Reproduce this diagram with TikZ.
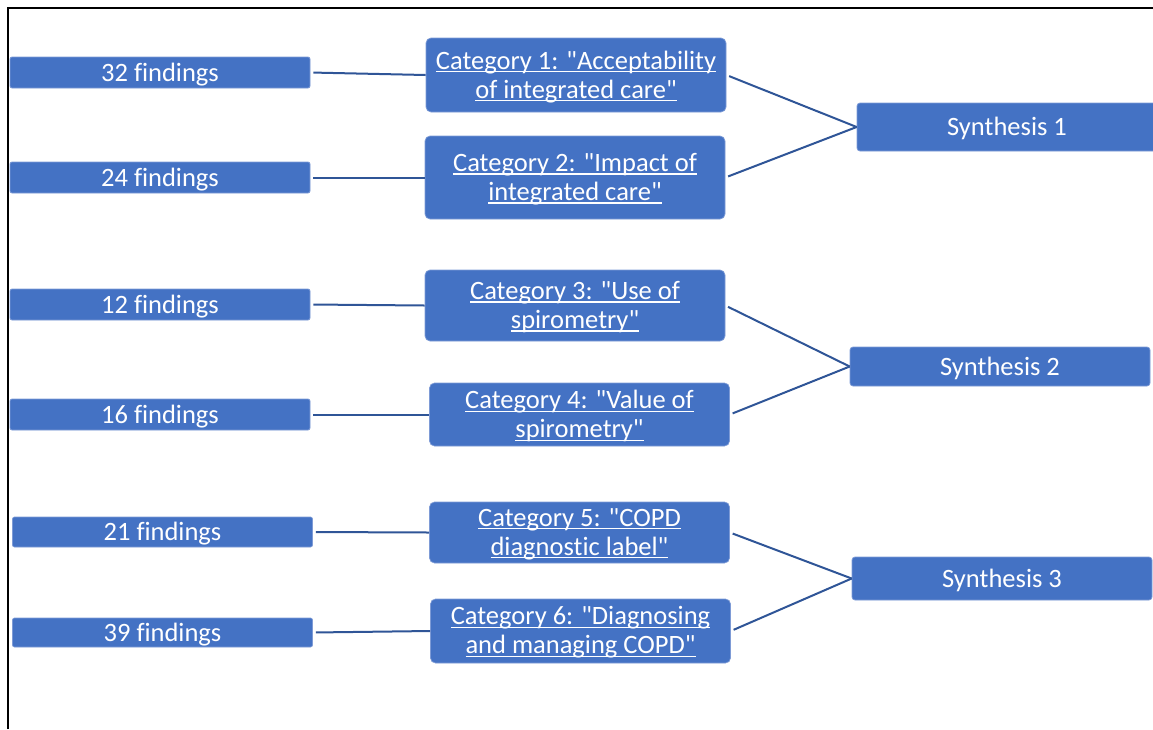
\documentclass[tikz,border=0pt]{standalone}
\usepackage{fontspec}
\setmainfont{Carlito}[Ligatures={TeXOff,CommonOff}]
\definecolor{boxblue}{HTML}{4472C4}
\definecolor{boxedge}{HTML}{7E9BD6}
\definecolor{linkblue}{HTML}{2F5597}
% straight double quote
\newcommand\dq{\char34\relax}
% one line of box text, set slightly low without changing its reported size
\newcommand\boxline[1]{\raisebox{-1.6pt}[\height][\depth]{#1}}
% underlined line of box text, rule at a fixed depth below the baseline
\newcommand\uboxline[1]{\setbox0\hbox{#1}\boxline{\rlap{\rule[-3.2pt]{\wd0}{1.3pt}}\box0}}
\begin{document}
\begin{tikzpicture}[x=1pt,y=-1pt,
  base/.style={fill=boxblue,draw=boxedge,line width=0.7pt,text=white,inner sep=0pt,
    font=\fontsize{26.5}{29}\selectfont,align=center,minimum width=300pt},
  findbox/.style={base,rounded corners=2pt},
  catbox/.style={base,rounded corners=5pt},
  synbox/.style={base,rounded corners=3pt},
  link/.style={draw=linkblue,line width=2pt,shorten <=3pt}]
\clip (0,0) rectangle (1153,729);
\useasboundingbox (0,0) rectangle (1153,729);
% frame
\draw[line width=2pt] (8,729) -- (8,7.5) -- (1160,7.5);

% findings
\node[findbox,minimum height=31pt] (f1) at (160,72.5) {\boxline{32 findings}};
\node[findbox,minimum height=31pt] (f2) at (160,177.5) {\boxline{24 findings}};
\node[findbox,minimum height=31pt] (f3) at (160,304.5) {\boxline{12 findings}};
\node[findbox,minimum height=31pt] (f4) at (160,414.5) {\boxline{16 findings}};
\node[findbox,minimum height=30pt] (f5) at (162.5,532) {\boxline{21 findings}};
\node[findbox,minimum height=29pt] (f6) at (162.5,632.5) {\boxline{39 findings}};

% categories
\node[catbox,minimum height=74pt] (c1) at (576,75)
  {\uboxline{Category 1: \dq Acceptability}\\\uboxline{of integrated care\dq}};
\node[catbox,minimum height=83pt] (c2) at (575,177.5)
  {\uboxline{Category 2: \dq Impact of}\\\uboxline{integrated care\dq}};
\node[catbox,minimum height=71pt] (c3) at (575,305.5)
  {\uboxline{Category 3: \dq Use of}\\\uboxline{spirometry\dq}};
\node[catbox,minimum height=63pt] (c4) at (579.5,414.5)
  {\uboxline{Category 4: \dq Value of}\\\uboxline{spirometry\dq}};
\node[catbox,minimum height=61pt] (c5) at (579.5,532.5)
  {\uboxline{Category 5: \dq COPD}\\\uboxline{diagnostic label\dq}};
\node[catbox,minimum height=64pt] (c6) at (580.5,631)
  {\uboxline{Category 6: \dq Diagnosing}\\\uboxline{and managing COPD\dq}};

% syntheses
\node[synbox,minimum height=48pt] (s1) at (1007,127) {\boxline{Synthesis 1}};
\node[synbox,minimum height=39pt] (s2) at (1000,366.5) {\boxline{Synthesis 2}};
\node[synbox,minimum height=43pt] (s3) at (1002,578.5) {\boxline{Synthesis 3}};

% connectors
\draw[link] (f1.east) -- (c1.west);
\draw[link] (f2.east) -- (c2.west);
\draw[link] (f3.east) -- (c3.west);
\draw[link] (f4.east) -- (c4.west);
\draw[link] (f5.east) -- (c5.west);
\draw[link] (f6.east) -- (c6.west);
\draw[link] (c1.east) -- (s1.west);
\draw[link] (c2.east) -- (s1.west);
\draw[link] (c3.east) -- (s2.west);
\draw[link] (c4.east) -- (s2.west);
\draw[link] (c5.east) -- (s3.west);
\draw[link] (c6.east) -- (s3.west);
\end{tikzpicture}
\end{document}
